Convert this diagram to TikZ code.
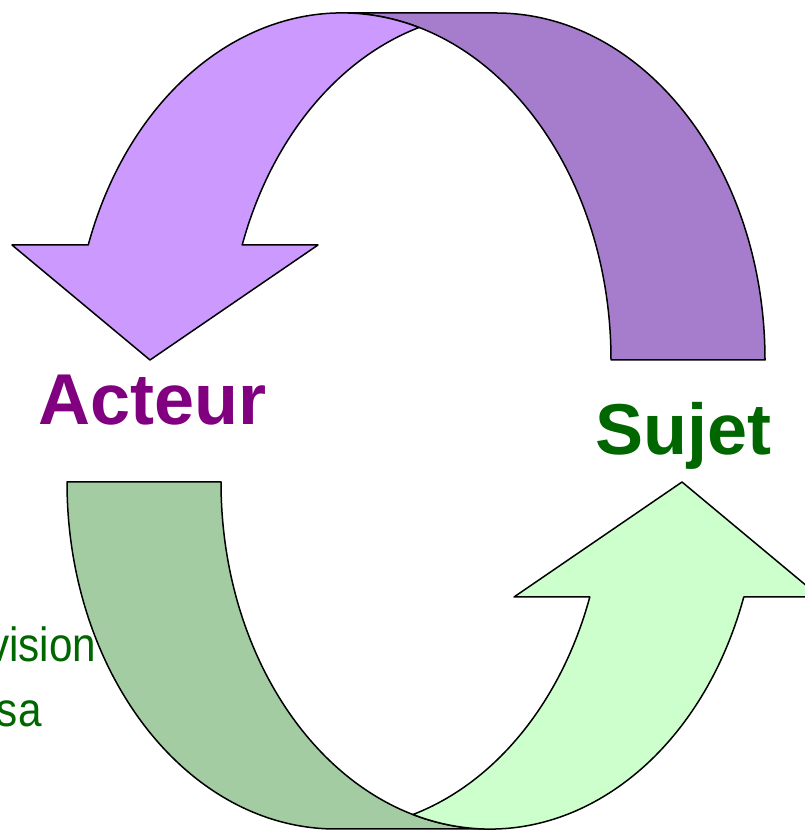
\documentclass[tikz,border=0pt]{standalone}
\usepackage{fontspec}
\setmainfont{Liberation Sans}
\tikzset{
  bandline/.style={draw=black,line width=1.5pt,line join=round},
  bigword/.style={font=\bfseries\fontsize{72}{86}\selectfont,inner sep=0pt,outer sep=0pt,anchor=base},
  sideword/.style={font=\fontsize{48}{58}\selectfont,inner sep=0pt,outer sep=0pt,anchor=base east,xscale=0.88}
}
\begin{document}
\begin{tikzpicture}[x=1pt,y=1pt]
\definecolor{purpleLight}{RGB}{204,153,255}
\definecolor{purpleDark}{RGB}{165,125,204}
\definecolor{greenLight}{RGB}{204,255,204}
\definecolor{greenDark}{RGB}{163,204,163}
\definecolor{acteurColor}{RGB}{128,0,128}
\definecolor{sujetColor}{RGB}{0,102,0}
\path[use as bounding box,fill=white] (0,0) rectangle (805,830);
\begin{scope}
\path[clip] (0,0) rectangle (805,830);

% upper arrow, pointing down to the actor
\coordinate (tailOut) at (765,470);
\coordinate (topLeft) at (342,817);
\coordinate (cross) at (419,802.5);
\coordinate (shaftIn) at (242.2,585);
\coordinate (wingOut) at (12,585);
\coordinate (wingIn) at (318,585);
\coordinate (tip) at (150,470);

\path[bandline,fill=purpleDark] (tailOut)
  arc[start angle=0,end angle=90,x radius=269,y radius=347] -- (topLeft)
  arc[start angle=90,end angle=0,x radius=269,y radius=347] -- cycle;
\path[bandline,fill=purpleLight] (cross)
  arc[start angle=73.37,end angle=160.65,x radius=269,y radius=347] --
  (wingOut) -- (tip) -- (wingIn) -- (shaftIn)
  arc[start angle=160.65,end angle=106.63,x radius=269,y radius=347] -- cycle;

% lower arrow, pointing up to the subject
\begin{scope}[rotate around={180:(416,409)}]
\coordinate (lowTailOut) at (765,470);
\coordinate (lowTopLeft) at (342,817);
\coordinate (lowCross) at (419,802.5);
\coordinate (lowShaftIn) at (242.2,585);
\coordinate (lowWingOut) at (12,585);
\coordinate (lowWingIn) at (318,585);
\coordinate (lowTip) at (150,470);

\path[bandline,fill=greenDark] (lowTailOut)
  arc[start angle=0,end angle=90,x radius=269,y radius=347] -- (lowTopLeft)
  arc[start angle=90,end angle=0,x radius=269,y radius=347] -- cycle;
\path[bandline,fill=greenLight] (lowCross)
  arc[start angle=73.37,end angle=160.65,x radius=269,y radius=347] --
  (lowWingOut) -- (lowTip) -- (lowWingIn) -- (lowShaftIn)
  arc[start angle=160.65,end angle=106.63,x radius=269,y radius=347] -- cycle;
\end{scope}

\node[bigword,text=acteurColor] (acteur) at (153,405) {Acteur};
\node[bigword,text=sujetColor] (sujet) at (683.5,375) {Sujet};

\node[sideword,text=sujetColor] (vision) at (96,168) {vision};
\node[sideword,text=sujetColor] (sa) at (41.5,103) {sa};
\end{scope}
\end{tikzpicture}
\end{document}
